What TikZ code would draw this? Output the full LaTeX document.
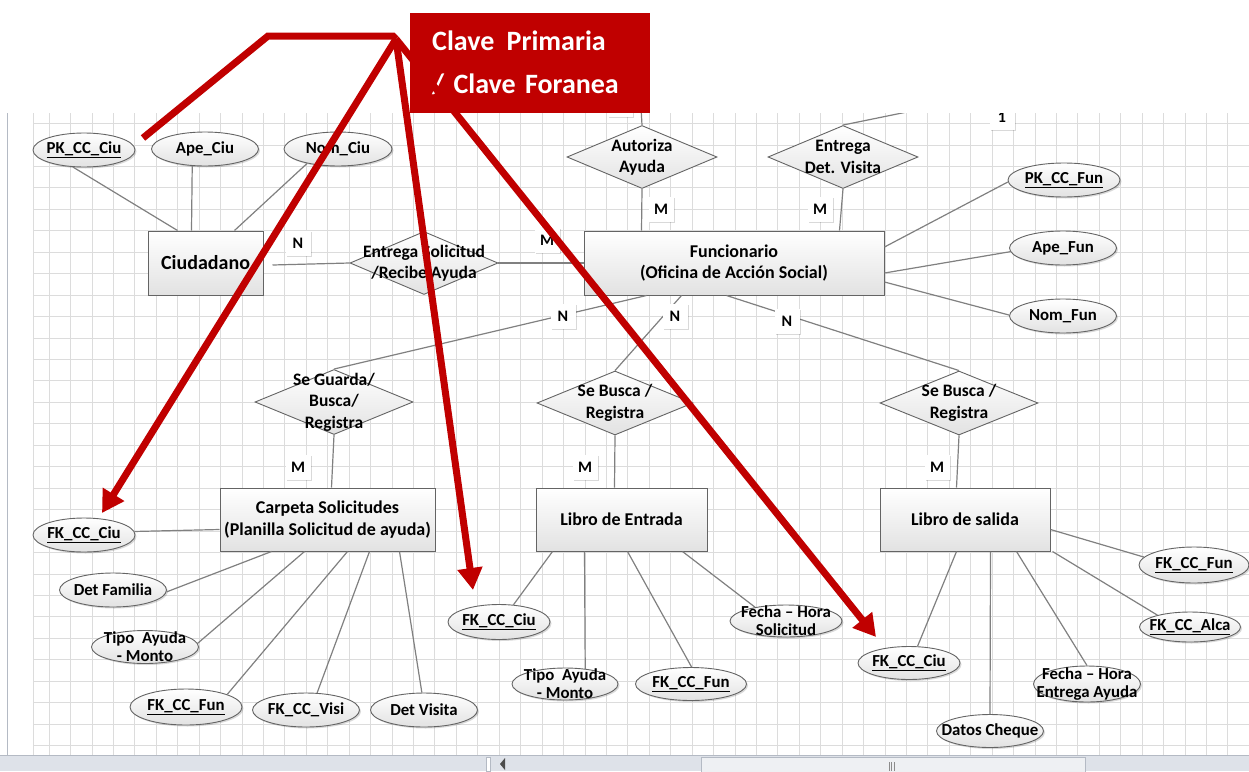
\documentclass[tikz,border=0pt]{standalone}
\usepackage{fontspec}
\setmainfont{Carlito}
\usetikzlibrary{shapes.geometric,arrows.meta,shadows}
\definecolor{keyred}{HTML}{C00000}
\definecolor{gridc}{HTML}{DCDCDC}
\definecolor{edgec}{HTML}{808080}
\definecolor{shapeb}{HTML}{646464}
\definecolor{shadefill}{HTML}{E2E2E2}
\definecolor{barc}{HTML}{DEE2E9}
\definecolor{barline}{HTML}{B4BAC4}
\definecolor{thumbc}{HTML}{EEF0F3}
\tikzset{
  gridline/.style={draw=gridc, line width=0.9pt},
  conn/.style={draw=edgec, line width=1.2pt},
  softshadow/.style={drop shadow={shadow xshift=1.5pt, shadow yshift=-1.5pt, fill=black, opacity=0.15}},
  sz/.style 2 args={minimum width=#1pt, minimum height=#2pt},
  entity/.style={rectangle, draw=shapeb, line width=1pt, top color=white, bottom color=shadefill, text=black, font=\bfseries\fontsize{18}{21.5}\selectfont, align=center, inner sep=0pt},
  rel/.style={diamond, draw=shapeb, line width=0.9pt, top color=white, bottom color=shadefill, inner sep=0pt},
  reltext/.style={text=black, font=\bfseries\fontsize{17.5}{21.5}\selectfont, align=center, inner sep=0pt},
  attr/.style={ellipse, draw=shapeb, line width=0.9pt, top color=white, bottom color=shadefill, inner sep=0pt, softshadow},
  attrtext/.style={text=black, font=\bfseries\fontsize{16.8}{18}\selectfont, align=center, inner sep=0pt},
  card/.style={fill=white, minimum size=25pt, inner sep=0pt, text=black, font=\bfseries\fontsize{16}{16}\selectfont, softshadow},
  keybox/.style={fill=keyred, text=white, font=\bfseries\fontsize{28}{43}\selectfont, align=left, text width=196pt, inner xsep=22pt, inner ysep=0pt, minimum height=100pt},
  redline/.style={draw=keyred, line width=7pt, line join=miter},
  redarrow/.style={redline, -{Triangle[length=22pt,width=24pt]}},
}
\begin{document}
\begin{tikzpicture}[x=1pt,y=-1pt]
\useasboundingbox (0,0) rectangle (1249,771);
\fill[white] (0,0) rectangle (1249,771);

\begin{scope}
\clip (8,113) rectangle (1249,755);
% grid
\foreach \k in {0,...,55} \draw[gridline] ({49.2+21.43*\k},113) -- ({49.2+21.43*\k},755);
\foreach \k in {0,...,29} \draw[gridline] (33,{123.5+21.45*\k}) -- (1249,{123.5+21.45*\k});
\draw[gridline] (33,113) -- (33,755);

% entities
\node[entity, sz={115}{64}] (ciu) at (205.5,263) {\fontsize{20}{22}\selectfont Ciudadano};
\node[entity, sz={300}{64}] (fun) at (734,263) {Funcionario\\(Oficina de Acción Social)};
\node[entity, sz={215}{63}] (carp) at (327.5,519.5) {Carpeta Solicitudes\\(Planilla Solicitud de ayuda)};
\node[entity, sz={171}{63}] (lent) at (621.5,519.5) {Libro de Entrada};
\node[entity, sz={170}{63}] (lsal) at (965,519.5) {Libro de salida};

% relationships
\node[rel, sz={148}{63}, label={[reltext]center:{Entrega Solicitud\\/Recibe Ayuda}}] (dsol) at (424,263) {};
\node[rel, sz={150}{63}, label={[reltext]center:{Autoriza\\Ayuda}}] (daut) at (642,157) {};
\node[rel, sz={150}{63}, label={[reltext]center:{Entrega\\Det. Visita}}] (dvis) at (843,157) {};
\node[rel, sz={158}{65}, label={[reltext]center:{Se Guarda/\\Busca/\\Registra}}] (dguar) at (334,402) {};
\node[rel, sz={156}{64}, label={[reltext]center:{Se Busca /\\Registra}}] (dbus1) at (615,403) {};
\node[rel, sz={158}{64}, label={[reltext]center:{Se Busca /\\Registra}}] (dbus2) at (959,403) {};

% attributes
\node[attr, sz={102}{34}, label={[attrtext]center:{\underline{PK\_CC\_Ciu}}}] (pkciu) at (84,150) {};
\node[attr, sz={107}{34}, label={[attrtext]center:{Ape\_Ciu}}] (apeciu) at (205,149) {};
\node[attr, sz={108}{34}, label={[attrtext]center:{Nom\_Ciu}}] (nomciu) at (338,149) {};
\node[attr, sz={112}{34}, label={[attrtext]center:{\underline{PK\_CC\_Fun}}}] (pkfun) at (1064,180) {};
\node[attr, sz={107}{34}, label={[attrtext]center:{Ape\_Fun}}] (apefun) at (1063,248) {};
\node[attr, sz={107}{34}, label={[attrtext]center:{Nom\_Fun}}] (nomfun) at (1063,316) {};
\node[attr, sz={102}{34}, label={[attrtext]center:{\underline{FK\_CC\_Ciu}}}] (fkciua) at (84,535) {};
\node[attr, sz={107}{34}, label={[attrtext]center:{Det Familia}}] (detfam) at (113,590) {};
\node[attr, sz={107}{33}, label={[attrtext]center:{Tipo\ \ Ayuda\\- Monto}}] (tipoa) at (145,647) {};
\node[attr, sz={112}{36}, label={[attrtext]center:{\underline{FK\_CC\_Fun}}}] (fkfuna) at (186,707) {};
\node[attr, sz={107}{34}, label={[attrtext]center:{FK\_CC\_Visi}}] (fkvisi) at (306,710) {};
\node[attr, sz={107}{34}, label={[attrtext]center:{Det Visita}}] (detvis) at (424,710) {};
\node[attr, sz={102}{35}, label={[attrtext]center:{\underline{FK\_CC\_Ciu}}}] (fkciub) at (499,622) {};
\node[attr, sz={106}{32}, label={[attrtext]center:{Tipo\ \ Ayuda\\- Monto}}] (tipob) at (565,684) {};
\node[attr, sz={111}{33}, label={[attrtext]center:{\underline{FK\_CC\_Fun}}}] (fkfunb) at (691,684) {};
\node[attr, sz={112}{32}, label={[attrtext]center:{Fecha – Hora\\Solicitud}}] (fechaa) at (786,621) {};
\node[attr, sz={102}{33}, label={[attrtext]center:{\underline{FK\_CC\_Ciu}}}] (fkciuc) at (909,663) {};
\node[attr, sz={107}{33}, label={[attrtext]center:{Datos Cheque}}] (datos) at (990,731) {};
\node[attr, sz={107}{36}, label={[attrtext]center:{Fecha – Hora\\Entrega Ayuda}}] (fechab) at (1087,684) {};
\node[attr, sz={110}{36}, label={[attrtext]center:{\underline{FK\_CC\_Fun}}}] (fkfunc) at (1194,565) {};
\node[attr, sz={101}{30}, label={[attrtext]center:{\underline{FK\_CC\_Alca}}}] (fkalca) at (1190,627) {};

% free ends at the top edge
\coordinate (topa) at (640,90);
\coordinate (topb) at (1000,93);

% connectors
\draw[conn] (pkciu.-123) -- ([xshift=30pt]ciu.north west);
\draw[conn] (apeciu.-127) -- ([xshift=44pt]ciu.north west);
\draw[conn] (nomciu.-155) -- ([xshift=87pt]ciu.north west);
\draw[conn] ([xshift=9pt,yshift=-2pt]ciu.east) -- (dsol.west);
\draw[conn] (dsol.east) -- (fun.west);
\draw[conn] (daut.south) -- ([xshift=58pt]fun.north west);
\draw[conn] (daut.north) -- (topa);
\draw[conn] (dvis.south) -- ([xshift=256pt]fun.north west);
\draw[conn] (dvis.north) -- (topb);
\draw[conn] ([yshift=16pt]fun.east) -- (pkfun.182);
\draw[conn] ([yshift=-10pt]fun.east) -- (apefun.-176);
\draw[conn] ([yshift=-19pt]fun.east) -- (nomfun.179);
\draw[conn] ([xshift=63pt]fun.south west) -- (dguar.north);
\draw[conn] ([xshift=98pt]fun.south west) -- (dbus1.north);
\draw[conn] ([xshift=143pt]fun.south west) -- (dbus2.north);
\draw[conn] (dguar.south) -- ([xshift=112pt]carp.north west);
\draw[conn] (dbus1.south) -- ([xshift=79pt]lent.north west);
\draw[conn] (dbus2.south) -- ([xshift=77pt]lsal.north west);
\draw[conn] ([yshift=-10pt]carp.west) -- (fkciua.4);
\draw[conn] ([xshift=52pt]carp.south west) -- (detfam.-2);
\draw[conn] ([xshift=85pt]carp.south west) -- (tipoa.4);
\draw[conn] ([xshift=128pt]carp.south west) -- (fkfuna.17);
\draw[conn] ([xshift=150pt]carp.south west) -- (fkvisi.57);
\draw[conn] ([xshift=180pt]carp.south west) -- (detvis.97);
\draw[conn] ([xshift=17pt]lent.south west) -- (fkciub.50);
\draw[conn] ([xshift=49pt]lent.south west) -- (tipob.37);
\draw[conn] ([xshift=92pt]lent.south west) -- (fkfunb.88);
\draw[conn] ([xshift=147pt]lent.south west) -- (fechaa.156);
\draw[conn] ([xshift=77pt]lsal.south west) -- (fkciuc.63);
\draw[conn] ([xshift=111pt]lsal.south west) -- (datos.north);
\draw[conn] ([xshift=137pt]lsal.south west) -- (fechab.north);
\draw[conn] ([xshift=2pt]lsal.south east) -- (fkalca.160);
\draw[conn] ([yshift=-10pt]lsal.east) -- (fkfunc.171);

% cardinalities
\node[card] (cn1) at (298,243) {N};
\node[card] (cm1) at (547,240) {M};
\node[card] (cm2) at (661,209) {M};
\node[card] (cm3) at (820,209) {M};
\node[card] (cn2) at (563,316) {N};
\node[card] (cn3) at (675,316) {N};
\node[card] (cn4) at (787,321) {N};
\node[card] (cm4) at (298,467) {M};
\node[card] (cm5) at (585,467) {M};
\node[card] (cm6) at (937,467) {M};
\node[card] (co1) at (620,104) {1};
\node[card] (co2) at (1002,117) {1};
\end{scope}

% window frame and scroll bar
\draw[barline, line width=1pt] (7,113) -- (7,755);
\fill[barc] (0,755) rectangle (1249,771);
\draw[barline, line width=1pt] (0,755) -- (1249,755);
\draw[barline, fill=white] (486,757) rectangle (490,771);
\fill[black!70] (505,758) -- (505,770) -- (500,764) -- cycle;
\draw[barline, fill=thumbc] (701,757) rectangle (1085,772);
\foreach \gx in {889,891.5,894} \draw[black!45, line width=0.6pt] (\gx,762) -- (\gx,771);

% key callout
\node[keybox, anchor=north west] (key) at (410,13) {Clave\hspace{3pt} Primaria\\/ Clave Foranea};
\coordinate (ps) at (143,138);
\coordinate (pb) at (268,36);
\coordinate (pe) at (393,36);
\coordinate (apex) at (396,39);
\coordinate (ta) at (102,513);
\coordinate (tb) at (473,590);
\coordinate (tc) at (876,637);
\draw[redline] (ps) -- (pb) -- (pe) -- (apex);
\draw[redarrow] (apex) -- (ta);
\draw[redarrow] (apex) -- (tb);
\draw[redarrow] (apex) -- (tc);
\end{tikzpicture}
\end{document}
